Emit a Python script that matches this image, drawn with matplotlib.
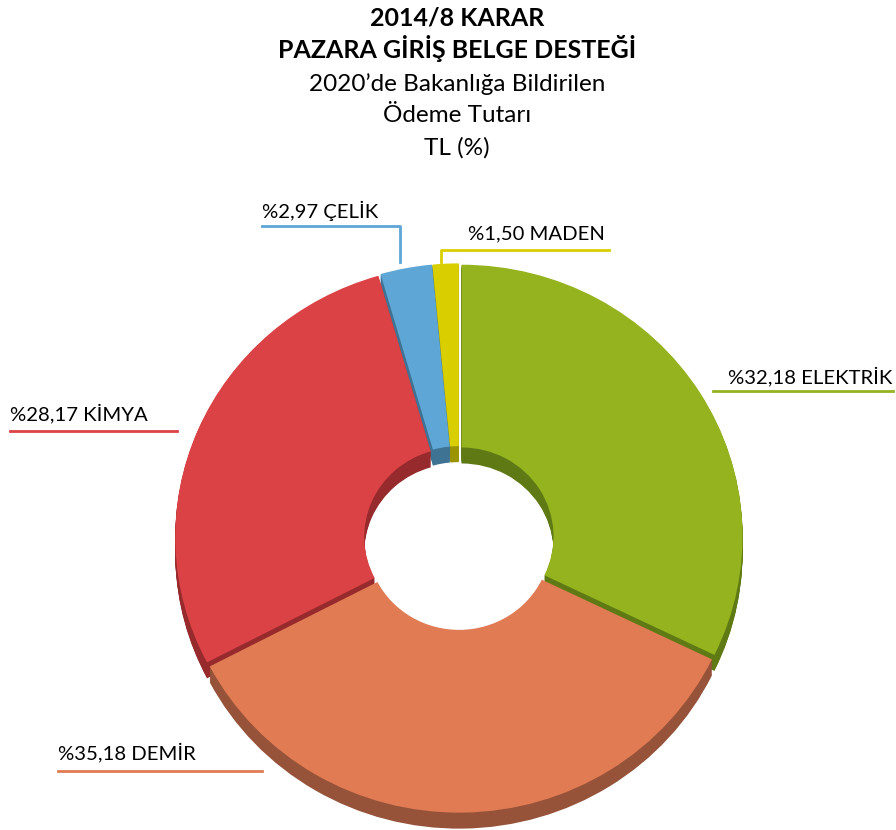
import matplotlib.pyplot as plt

# data (clockwise from the top)
sectors = ["ELEKTRİK", "DEMİR", "KİMYA", "ÇELİK", "MADEN"]
shares = [32.18, 35.18, 28.17, 2.97, 1.50]
top_colors = ["#94b31f", "#e07b53", "#db4245", "#5da6d6", "#d9cf00"]
side_colors = ["#5f7a14", "#96533a", "#962a2c", "#3f7393", "#9a9400"]

title_bold = ["2014/8 KARAR", "PAZARA GİRİŞ BELGE DESTEĞİ"]
title_reg = ["2020’de Bakanlığa Bildirilen", "Ödeme Tutarı", "TL (%)"]

plt.rcParams['font.family'] = ['Lato', 'DejaVu Sans']

W, H = 896, 830
fig = plt.figure(figsize=(W / 100, H / 100), dpi=100)

# pie axes: y squeezed a little so the ring looks slightly tilted
ky = 0.967
axp = fig.add_axes([0, 0, 1, 1])
cx, cy = 459, 538      # pixels, y down
r = 281
hole = 92
depth = 16
explode = [3] * len(shares)

for k in range(depth, 0, -1):
    axp.pie(shares, colors=side_colors, center=(cx, (cy + k) / ky), radius=r,
            startangle=-90, counterclock=True, explode=explode,
            wedgeprops=dict(width=r - hole, edgecolor='none', linewidth=0))
axp.pie(shares, colors=top_colors, center=(cx, cy / ky), radius=r,
        startangle=-90, counterclock=True, explode=explode,
        wedgeprops=dict(width=r - hole, edgecolor='none', linewidth=0))
axp.set_aspect('auto')
axp.set_xlim(0, W)
axp.set_ylim(H / ky, 0)
axp.axis('off')

# overlay in plain pixels for labels
ax = fig.add_axes([0, 0, 1, 1])
ax.set_xlim(0, W)
ax.set_ylim(H, 0)
ax.axis('off')

lab = {s: f"%{v:.2f}".replace(".", ",") + " " + s for s, v in zip(sectors, shares)}
fs = 14.6

ax.text(892, 376, lab["ELEKTRİK"], ha='right', va='center', fontsize=fs)
ax.plot([713, 893], [391, 391], color=top_colors[0], lw=2)

ax.text(58, 752, lab["DEMİR"], ha='left', va='center', fontsize=fs)
ax.plot([58, 262], [771, 771], color=top_colors[1], lw=2)

ax.text(10, 413, lab["KİMYA"], ha='left', va='center', fontsize=fs)
ax.plot([10, 177], [431, 431], color=top_colors[2], lw=2)

ax.text(262, 211, lab["ÇELİK"], ha='left', va='center', fontsize=fs)
ax.plot([262, 400, 400], [226, 226, 262], color=top_colors[3], lw=2)

ax.text(468, 234, lab["MADEN"], ha='left', va='center', fontsize=fs)
ax.plot([441, 441, 609], [262, 250, 250], color=top_colors[4], lw=2)

# title block
ys = [18, 48, 84, 116, 148]
tx = 457 / W
for t, y in zip(title_bold, ys[:2]):
    fig.text(tx, 1 - y / H, t, ha='center', va='center', fontsize=18, fontweight='bold')
for t, y in zip(title_reg, ys[2:]):
    fig.text(tx, 1 - y / H, t, ha='center', va='center', fontsize=17.5)

fig.savefig("out.png", dpi=100)
